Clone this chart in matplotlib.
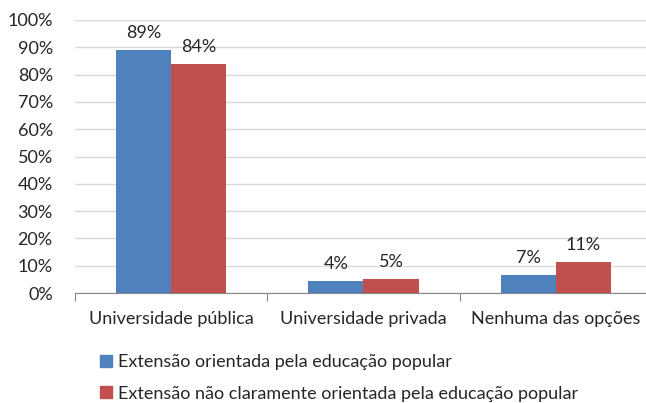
import matplotlib
matplotlib.use("Agg")
import matplotlib.pyplot as plt
from matplotlib.patches import Patch
import numpy as np

categories = ["Universidade pública", "Universidade privada", "Nenhuma das opções"]
series_names = ["Extensão orientada pela educação popular",
                "Extensão não claramente orientada pela educação popular"]
blue_vals = [89.0, 4.4, 6.6]
red_vals = [83.9, 5.0, 11.5]
blue_labels = ["89%", "4%", "7%"]
red_labels = ["84%", "5%", "11%"]
yticks = list(range(0, 101, 10))

plt.rcParams['font.family'] = ['Lato', 'DejaVu Sans']

BLUE = "#4f81bd"
RED = "#c0504d"
TXT = "#262626"
FS = 13

fig = plt.figure(figsize=(6.46, 4.03), dpi=100)
ax = fig.add_axes([75/646, 1-293/403, 577/646, 273/403])

x = np.arange(len(categories))
w = 0.286
ax.bar(x - w/2, blue_vals, w, color=BLUE, zorder=3)
ax.bar(x + w/2, red_vals, w, color=RED, zorder=3)

for xi, v, t in zip(x, blue_vals, blue_labels):
    ax.text(xi - w/2, v + 3.3, t, ha="center", va="bottom", fontsize=FS, color=TXT)
for xi, v, t in zip(x, red_vals, red_labels):
    ax.text(xi + w/2, v + 3.3, t, ha="center", va="bottom", fontsize=FS, color=TXT)

ax.set_xlim(-0.5, 2.5)
ax.set_ylim(0, 100)
ax.set_yticks(yticks)
ax.set_yticklabels([f"{t}%" for t in yticks], fontsize=FS, color=TXT)
ax.yaxis.grid(True, color="#d9d9d9", linewidth=1, zorder=0)
ax.tick_params(axis="y", length=0, pad=16)

ax.set_xticks([0.5, 1.5, 2.5, -0.5])
ax.set_xticklabels([])
ax.set_xticks(x, minor=True)
ax.set_xticklabels(categories, minor=True, fontsize=FS, color=TXT)
ax.tick_params(axis="x", which="major", length=6, color="#868686", direction="out")
ax.tick_params(axis="x", which="minor", length=0, pad=13)

for s in ["top", "right", "left"]:
    ax.spines[s].set_visible(False)
ax.spines["bottom"].set_color("#868686")

handles = [Patch(color=BLUE), Patch(color=RED)]
fig.legend(handles, series_names, loc="upper left", bbox_to_anchor=(84/646, 1-338/403),
           frameon=False, fontsize=FS, handlelength=0.65, handleheight=0.65,
           handletextpad=0.35, labelspacing=0.85, labelcolor=TXT)

fig.savefig("out.png", dpi=100)
